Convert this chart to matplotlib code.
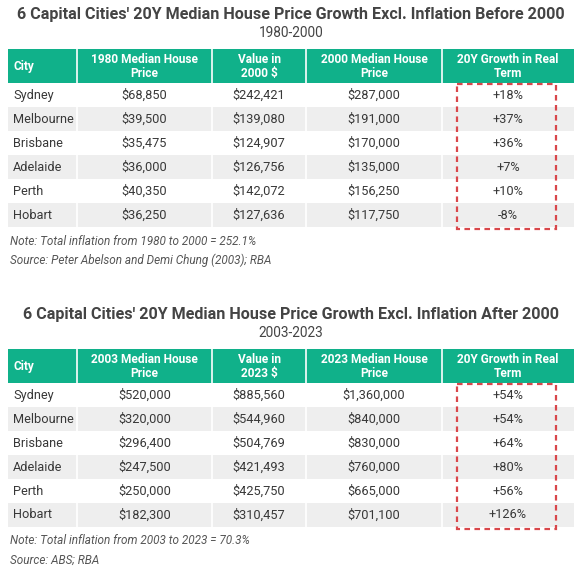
import matplotlib
matplotlib.use("Agg")
import matplotlib.pyplot as plt
from matplotlib.patches import Rectangle

plt.rcParams['font.family'] = ['Roboto', 'DejaVu Sans']

# ---------------- data ----------------
cities = ["Sydney", "Melbourne", "Brisbane", "Adelaide", "Perth", "Hobart"]

t1_title = "6 Capital Cities' 20Y Median House Price Growth Excl. Inflation Before 2000"
t1_sub = "1980-2000"
t1_headers = ["City", "1980 Median House\nPrice", "Value in\n2000 $", "2000 Median House\nPrice", "20Y Growth in Real\nTerm"]
price_1980 = [68850, 39500, 35475, 36000, 40350, 36250]
value_2000 = [242421, 139080, 124907, 126756, 142072, 127636]
price_2000 = [287000, 191000, 170000, 135000, 156250, 117750]
growth_1 = [18, 37, 36, 7, 10, -8]
t1_notes = ["Note: Total inflation from 1980 to 2000 = 252.1%",
            "Source: Peter Abelson and Demi Chung (2003); RBA"]

t2_title = "6 Capital Cities' 20Y Median House Price Growth Excl. Inflation After 2000"
t2_sub = "2003-2023"
t2_headers = ["City", "2003 Median House\nPrice", "Value in\n2023 $", "2023 Median House\nPrice", "20Y Growth in Real\nTerm"]
price_2003 = [520000, 320000, 296400, 247500, 250000, 182300]
value_2023 = [885560, 544960, 504769, 421493, 425750, 310457]
price_2023 = [1360000, 840000, 830000, 760000, 665000, 701100]
growth_2 = [54, 54, 64, 80, 56, 126]
t2_notes = ["Note: Total inflation from 2003 to 2023 = 70.3%",
            "Source: ABS; RBA"]

# ---------------- style / layout ----------------
W, H = 583, 569
TEAL = "#10b18a"
GRAY = "#eeeeee"
RED = "#d9474b"
TXT = "#383838"
col_edges = [8, 77, 212, 306, 442, 574]
HEAD_H = 34
ROW_H = 24

fig = plt.figure(figsize=(W / 100, H / 100), dpi=100)
ax = fig.add_axes([0, 0, 1, 1])
ax.set_xlim(0, W)
ax.set_ylim(H, 0)
ax.axis("off")


def money(v):
    return f"${v:,}"


def draw_block(y0, title, sub, headers, cols, growth, notes):
    cx = (col_edges[0] + col_edges[-1]) / 2
    ax.text(cx, y0 + 14, title, ha="center", va="center", fontsize=11.6,
            fontweight="bold", color="#444444")
    ax.text(cx, y0 + 33, sub, ha="center", va="center", fontsize=9.8,
            color="#444444")
    top = y0 + 49
    # header
    for i in range(5):
        x0, x1 = col_edges[i], col_edges[i + 1]
        ax.add_patch(Rectangle((x0, top), x1 - x0, HEAD_H, facecolor=TEAL,
                               edgecolor="none"))
        if i == 0:
            ax.text(x0 + 5, top + HEAD_H / 2, headers[i], ha="left", va="center",
                    fontsize=8.6, fontweight="bold", color="white")
        else:
            ax.text((x0 + x1) / 2, top + HEAD_H / 2 + 0.5, headers[i], ha="center",
                    va="center", fontsize=8.6, fontweight="bold", color="white",
                    linespacing=1.1)
    # rows
    n = len(cities)
    for r in range(n):
        ry = top + HEAD_H + r * ROW_H
        if r % 2 == 1:
            ax.add_patch(Rectangle((col_edges[0], ry), col_edges[-1] - col_edges[0],
                                   ROW_H, facecolor=GRAY, edgecolor="none"))
        vals = [cities[r]] + [money(c[r]) for c in cols] + [f"{growth[r]:+d}%"]
        for i, v in enumerate(vals):
            x0, x1 = col_edges[i], col_edges[i + 1]
            if i == 0:
                ax.text(x0 + 5, ry + ROW_H / 2, v, ha="left", va="center",
                        fontsize=9.2, color=TXT)
            else:
                ax.text((x0 + x1) / 2, ry + ROW_H / 2, v, ha="center", va="center",
                        fontsize=9.2, color=TXT)
    bottom = top + HEAD_H + n * ROW_H
    # white column separators
    for x in col_edges[1:-1]:
        ax.plot([x, x], [top, bottom], color="white", lw=1.2, solid_capstyle="butt")
    # red dashed highlight box
    ax.add_patch(Rectangle((457, top + HEAD_H + 1), 99, bottom - top - HEAD_H + 1,
                           facecolor="none", edgecolor=RED, lw=1.6,
                           linestyle=(0, (2.5, 2))))
    # notes
    for k, nt in enumerate(notes):
        ax.text(col_edges[0] + 2, bottom + 14 + k * 19, nt, ha="left", va="center",
                fontsize=8.45, style="italic", color="#555555")


draw_block(0, t1_title, t1_sub, t1_headers, [price_1980, value_2000, price_2000],
           growth_1, t1_notes)
draw_block(300, t2_title, t2_sub, t2_headers, [price_2003, value_2023, price_2023],
           growth_2, t2_notes)

fig.savefig("out.png", dpi=100, facecolor="white")
